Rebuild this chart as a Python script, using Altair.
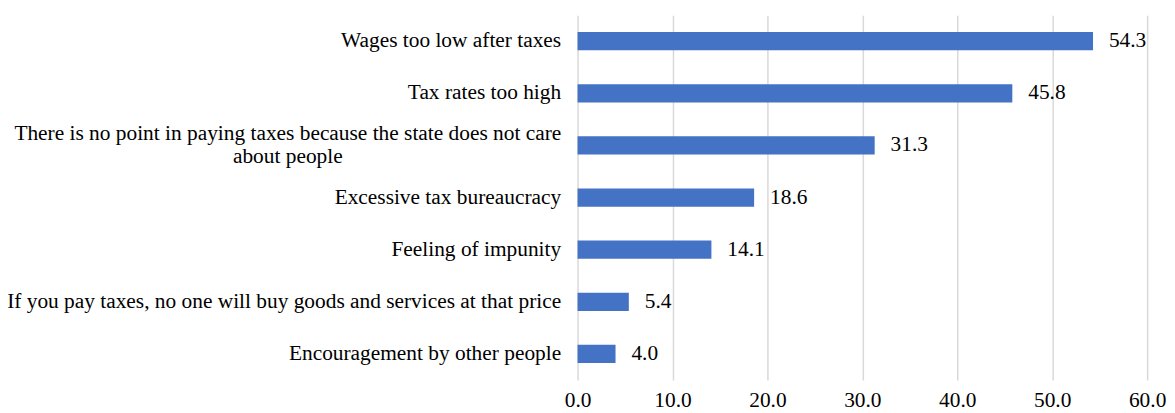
import altair as alt
import pandas as pd

categories = [
    "Wages too low after taxes",
    "Tax rates too high",
    "There is no point in paying taxes because the state does not care|about people",
    "Excessive tax bureaucracy",
    "Feeling of impunity",
    "If you pay taxes, no one will buy goods and services at that price",
    "Encouragement by other people",
]
values = [54.3, 45.8, 31.3, 18.6, 14.1, 5.4, 4.0]
x_ticks = [0, 10, 20, 30, 40, 50, 60]

df = pd.DataFrame({"reason": categories, "pct": values})

FONT = "Times New Roman, Liberation Serif, serif"
FS = 21.5
long_test = "indexof(datum.value, '|') >= 0"

y_enc = alt.Y(
    "reason:N",
    sort=categories,
    title=None,
    scale=alt.Scale(paddingInner=0.65, paddingOuter=0.325),
    axis=alt.Axis(
        domain=False,
        ticks=False,
        grid=False,
        labelFont=FONT,
        labelFontSize=FS,
        labelColor="#000000",
        labelLimit=0,
        labelLineHeight=24,
        labelExpr="split(datum.label, '|')",
        labelAlign={"condition": {"test": long_test, "value": "center"}, "value": "right"},
        labelPadding={"condition": {"test": long_test, "value": 292}, "value": 17},
        labelOffset={"condition": {"test": long_test, "value": -12}, "value": 0},
        labelBaseline="middle",
    ),
)

x_enc = alt.X(
    "pct:Q",
    title=None,
    scale=alt.Scale(domain=[0, 60], nice=False),
    axis=alt.Axis(
        values=x_ticks,
        format=".1f",
        domain=False,
        ticks=False,
        grid=True,
        gridColor="#d9d9d9",
        gridWidth=1.5,
        labelFont=FONT,
        labelFontSize=FS,
        labelColor="#000000",
        labelPadding=10,
        labelFlush=False,
    ),
)

bars = alt.Chart(df).mark_bar(color="#4472C4").encode(x=x_enc, y=y_enc)

text = alt.Chart(df).mark_text(
    align="left", baseline="middle", dx=16, font=FONT, fontSize=FS, color="#000000"
).encode(
    x=alt.X("pct:Q"),
    y=alt.Y("reason:N", sort=categories),
    text=alt.Text("pct:Q", format=".1f"),
)

chart = (
    alt.layer(bars, text)
    .properties(
        width=573,
        height=367,
        autosize=alt.AutoSizeParams(type="none"),
        padding={"left": 573, "top": 6, "right": 20, "bottom": 32},
    )
    .configure_view(stroke=None)
)

chart.save("out.html", embed_options={"renderer": "svg", "actions": False})
